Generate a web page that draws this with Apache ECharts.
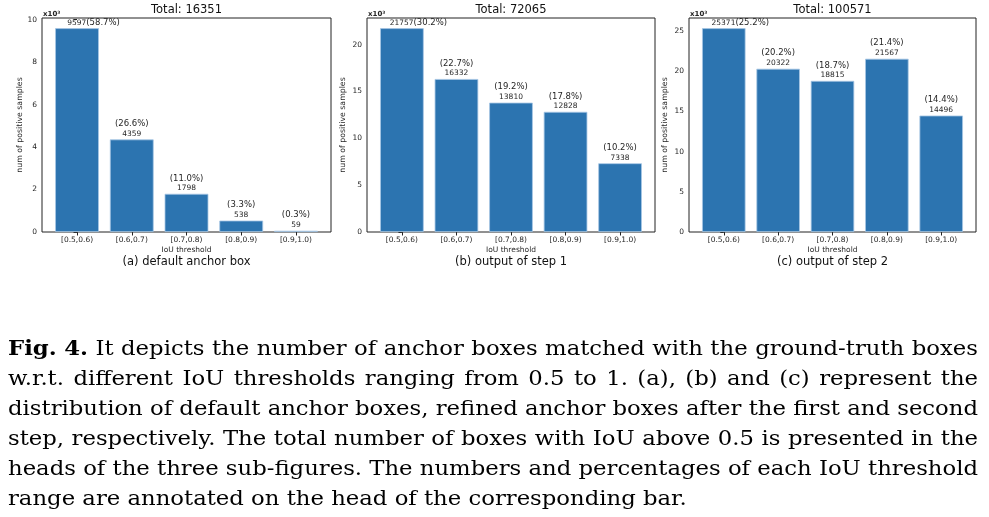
<!DOCTYPE html>
<html><head><meta charset="utf-8">
<script src="https://cdn.jsdelivr.net/npm/echarts@6/dist/echarts.min.js"></script>
<style>html,body{margin:0;padding:0;background:#fff}#c{width:989px;height:517px}</style>
</head><body><div id="c"></div>
<script>
const categories = ['[0.5,0.6)','[0.6,0.7)','[0.7,0.8)','[0.8,0.9)','[0.9,1.0)'];
const valuesA = [9597, 4359, 1798, 538, 59];
const pctA = ['58.7','26.6','11.0','3.3','0.3'];
const valuesB = [21757, 16332, 13810, 12828, 7338];
const pctB = ['30.2','22.7','19.2','17.8','10.2'];
const valuesC = [25371, 20322, 18815, 21567, 14496];
const pctC = ['25.2','20.2','18.7','21.4','14.4'];
const totals = [16351, 72065, 100571];
const subCaptions = ['(a) default anchor box', '(b) output of step 1', '(c) output of step 2'];
const yTicksA = [0, 2, 4, 6, 8, 10];
const yTicksB = [0, 5, 10, 15, 20];
const yTicksC = [0, 5, 10, 15, 20, 25];
const yMaxA = 10077, yMaxB = 22845, yMaxC = 26640;
const xTickPos = [0, 1, 2, 3, 4];
const captionLines = [
  'Fig. 4. It depicts the number of anchor boxes matched with the ground-truth boxes',
  'w.r.t. different IoU thresholds ranging from 0.5 to 1. (a), (b) and (c) represent the',
  'distribution of default anchor boxes, refined anchor boxes after the first and second',
  'step, respectively. The total number of boxes with IoU above 0.5 is presented in the',
  'heads of the three sub-figures. The numbers and percentages of each IoU threshold',
  'range are annotated on the head of the corresponding bar.'
];

const FONT = 'DejaVu Sans';
const TXT = '#262626';
const panels = [
  {vals: valuesA, pct: pctA, ticks: yTicksA, max: yMaxA, grid: {left: 42, top: 18, width: 289, height: 214}, nameGap: 18},
  {vals: valuesB, pct: pctB, ticks: yTicksB, max: yMaxB, grid: {left: 367, top: 18, width: 288, height: 214}, nameGap: 20},
  {vals: valuesC, pct: pctC, ticks: yTicksC, max: yMaxC, grid: {left: 689, top: 18, width: 287, height: 214}, nameGap: 20}
];

const grid = [], xAxis = [], yAxis = [], series = [], title = [], graphic = [];
panels.forEach((P, k) => {
  grid.push(Object.assign({show: true, borderColor: '#222', borderWidth: 1, backgroundColor: 'transparent'}, P.grid));
  xAxis.push({
    type: 'value', gridIndex: k, min: -0.64, max: 4.64,
    axisLine: {show: false}, splitLine: {show: false},
    axisTick: {show: true, length: 3.5, lineStyle: {color: '#222'}, customValues: xTickPos},
    axisLabel: {customValues: xTickPos, margin: 4, fontSize: 7.5, color: TXT, fontFamily: FONT,
      formatter: v => categories[Math.round(v)] || ''},
    name: 'IoU threshold', nameLocation: 'middle', nameGap: 14,
    nameTextStyle: {fontSize: 7.5, color: TXT, fontFamily: FONT}
  });
  const yv = P.ticks.map(t => t * 1000);
  yAxis.push({
    type: 'value', gridIndex: k, min: 0, max: P.max,
    axisLine: {show: false}, splitLine: {show: false},
    axisTick: {show: true, length: 3.5, lineStyle: {color: '#222'}, customValues: yv},
    axisLabel: {customValues: yv, margin: 5, fontSize: 7.5, color: TXT, fontFamily: FONT,
      formatter: v => String(Math.round(v / 1000))},
    name: 'num of positive samples', nameLocation: 'middle', nameGap: P.nameGap, nameRotate: 90,
    nameTextStyle: {fontSize: 7.8, color: TXT, fontFamily: FONT}
  });
  const vals = P.vals, pct = P.pct;
  series.push({
    type: 'bar', xAxisIndex: k, yAxisIndex: k, barWidth: '80%',
    itemStyle: {color: '#2c74b0', borderColor: '#a7c7e4', borderWidth: 0.8},
    label: {
      show: true, position: 'top', distance: 1,
      formatter: p => '{pct|(' + pct[p.dataIndex] + '%)}\n{cnt|' + vals[p.dataIndex] + '}',
      rich: {
        pct: {fontSize: 8.5, lineHeight: 11, color: TXT, fontFamily: FONT},
        cnt: {fontSize: 7.5, lineHeight: 9, color: TXT, fontFamily: FONT}
      }
    },
    data: vals.map((v, i) => {
      const d = {value: [xTickPos[i], v]};
      if (i === 0) {
        d.label = {
          offset: [16.5, 1],
          formatter: p => '{cnt|' + vals[p.dataIndex] + '}{pct|(' + pct[p.dataIndex] + '%)}'
        };
      }
      return d;
    })
  });
  const cx = P.grid.left + P.grid.width / 2;
  title.push({text: 'Total: ' + totals[k], left: cx, top: 4, textAlign: 'center', padding: 0,
    textStyle: {fontSize: 11.5, fontWeight: 'normal', color: '#111', fontFamily: FONT}});
  title.push({text: subCaptions[k], left: cx, top: 256, textAlign: 'center', padding: 0,
    textStyle: {fontSize: 11.5, fontWeight: 'normal', color: '#111', fontFamily: FONT}});
  graphic.push({type: 'text', x: P.grid.left + 1, y: 14.5,
    style: {text: 'x10³', font: 'bold 7px "' + FONT + '"', fill: TXT, textAlign: 'left', textVerticalAlign: 'middle', align: 'left', verticalAlign: 'middle'}});
});

// caption: justified lines, horizontally scaled serif to mimic Computer Modern width
const CAP_SIZE = 20, CAP_FAM = '"DejaVu Serif"';
const capLeft = 8, capRight = 978, capBase0 = 356.5, capStep = 30;
const cv = document.createElement('canvas').getContext('2d');
cv.font = CAP_SIZE + 'px ' + CAP_FAM;
const space = cv.measureText(' ').width;
const measured = captionLines.map((line, li) => {
  const words = line.split(' ');
  const fonts = words.map((w, wi) => (li === 0 && wi < 2 ? 'bold ' : '') + CAP_SIZE + 'px ' + CAP_FAM);
  const widths = words.map((w, wi) => { cv.font = fonts[wi]; return cv.measureText(w).width; });
  const total = widths.reduce((a, b) => a + b, 0);
  return {words, fonts, widths, total};
});
const scales = measured.slice(0, -1).map(m => (capRight - capLeft) / (m.total + (m.words.length - 1) * space));
const sx = Math.min.apply(null, scales);
measured.forEach((m, li) => {
  const last = li === measured.length - 1;
  const gap = last ? space * sx : (capRight - capLeft - m.total * sx) / (m.words.length - 1);
  let x = capLeft;
  const y = capBase0 + li * capStep - 0.36 * CAP_SIZE;
  m.words.forEach((w, wi) => {
    graphic.push({type: 'text', x: x, y: y, scaleX: sx,
      style: {text: w, font: m.fonts[wi], fill: '#000', textAlign: 'left', textVerticalAlign: 'middle', align: 'left', verticalAlign: 'middle'}});
    x += m.widths[wi] * sx + gap;
  });
});

const chart = echarts.init(document.getElementById('c'), null, {renderer: 'canvas'});
chart.setOption({animation: false, backgroundColor: '#fff', grid, xAxis, yAxis, series, title, graphic});
</script></body></html>
